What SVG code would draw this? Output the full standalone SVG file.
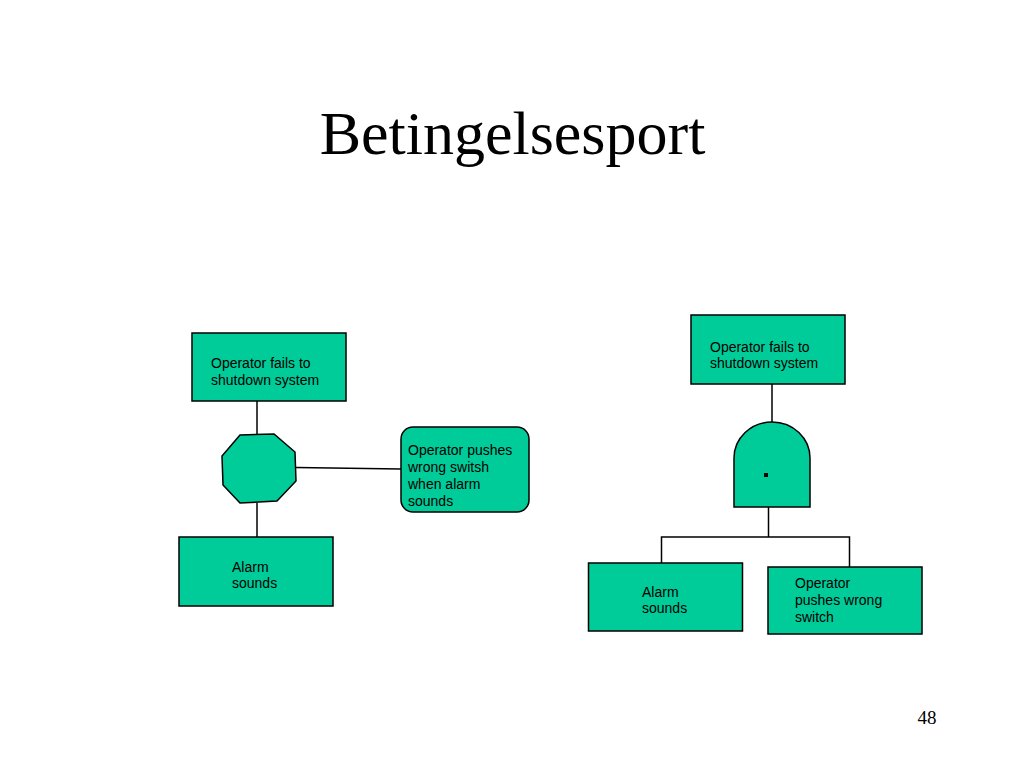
<svg xmlns="http://www.w3.org/2000/svg" width="1024" height="768" viewBox="0 0 1024 768">
<style>
.n{fill:#00CC99;stroke:#000;stroke-width:1.5}
.c{fill:none;stroke:#000;stroke-width:1.5}
.t{font-family:"Liberation Sans",Arial,sans-serif;font-size:14px;fill:#000}
.title{font-family:"Liberation Serif","Times New Roman",serif;font-size:62px;fill:#000}
.pg{font-family:"Liberation Serif","Times New Roman",serif;font-size:19px;fill:#000}
</style>
<rect width="1024" height="768" fill="#fff"/>
<text class="title" x="512.5" y="154" text-anchor="middle">Betingelsesport</text>
<text class="pg" x="936.5" y="724" text-anchor="end">48</text>
<g id="connectors">
<line class="c" x1="257" y1="401" x2="257" y2="435"/>
<line class="c" x1="257" y1="503" x2="257" y2="537"/>
<line class="c" x1="296" y1="467.5" x2="401" y2="469"/>
<line class="c" x1="772" y1="384" x2="772" y2="422"/>
<line class="c" x1="768.5" y1="507" x2="768.5" y2="537"/>
<polyline class="c" points="661.5,563 661.5,537 849.5,537 849.5,567"/>
</g>
<g id="left-top">
<rect class="n" x="192" y="333" width="154" height="68"/>
<text class="t" x="211" y="368">Operator fails to</text>
<text class="t" x="211" y="385">shutdown system</text>
</g>
<g id="left-gate">
<polygon class="n" points="240,435 274,434 295,452 296,481 277,501 240,503 223,485 222,456"/>
</g>
<g id="left-condition">
<rect class="n" x="401" y="427" width="128" height="85" rx="12" ry="12"/>
<text class="t" x="408" y="455">Operator pushes</text>
<text class="t" x="408" y="472">wrong switsh</text>
<text class="t" x="408" y="489">when alarm</text>
<text class="t" x="408" y="506">sounds</text>
</g>
<g id="left-bottom">
<rect class="n" x="179" y="537" width="154" height="69"/>
<text class="t" x="232" y="572">Alarm</text>
<text class="t" x="232" y="588">sounds</text>
</g>
<g id="right-top">
<rect class="n" x="691" y="315" width="154" height="69"/>
<text class="t" x="710" y="352">Operator fails to</text>
<text class="t" x="710" y="368">shutdown system</text>
</g>
<g id="right-gate">
<path class="n" d="M734,507 L734,458 A38,36 0 0 1 810,458 L810,507 Z"/>
<rect x="764" y="473" width="4" height="4" fill="#000"/>
</g>
<g id="right-bottom-left">
<rect class="n" x="588.5" y="563" width="154" height="68"/>
<text class="t" x="642" y="597">Alarm</text>
<text class="t" x="642" y="613">sounds</text>
</g>
<g id="right-bottom-right">
<rect class="n" x="768" y="567" width="154" height="67"/>
<text class="t" x="795" y="588">Operator</text>
<text class="t" x="795" y="605">pushes wrong</text>
<text class="t" x="795" y="622">switch</text>
</g>
</svg>
